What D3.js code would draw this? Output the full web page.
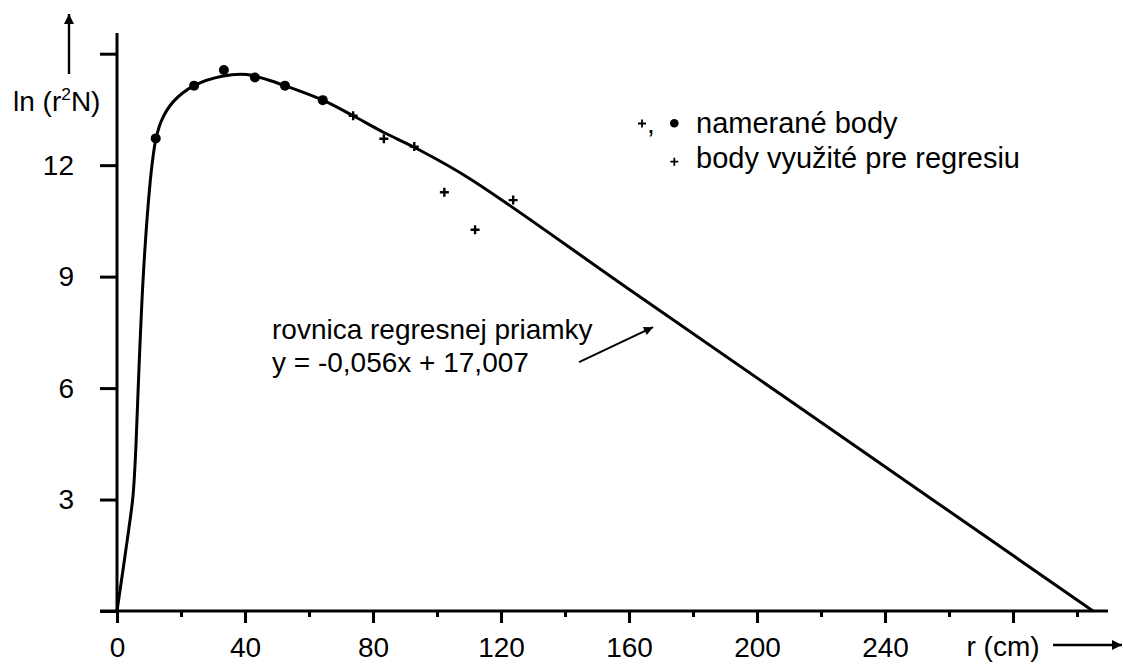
<!DOCTYPE html>
<html>
<head>
<meta charset="utf-8">
<script src="https://cdn.jsdelivr.net/npm/d3@7"></script>
<style>
  body { margin: 0; background: #fff; }
  svg text { font-family: "Liberation Sans", Arial, sans-serif; fill: #000; }
</style>
</head>
<body>
<div id="graf"></div>
<script>
// hodnoty odcitane z grafu
const xMajor  = [0, 40, 80, 120, 160, 200, 240, 280]
const xLabels = ['0', '40', '80', '120', '160', '200', '240', '']
const xMinor  = [20, 60, 100, 140, 180, 220, 260, 300]
const yTicks  = [0, 3, 6, 9, 12, 15]
const yLabels = ['', '3', '6', '9', '12', '']

// namerane body (krúžky)
const dotR = [12.1, 24.1, 33.4, 43.1, 52.5, 64.3]
const dotV = [12.72, 14.14, 14.56, 14.36, 14.14, 13.75]
// body vyuzite pre regresiu (krížiky)
const crossR = [73.8, 83.4, 92.9, 102.3, 111.9, 123.8]
const crossV = [13.33, 12.71, 12.50, 11.27, 10.26, 11.06]

// vyhladena krivka
const curveR = [0, 3.6, 5.0, 5.9, 6.9, 8.2, 9.8, 11.0, 12.2, 14.0, 17.6, 24.1, 33.2, 40.5, 47, 52.5, 64.3, 73.8, 83.4, 92.9, 110, 160, 220, 305]
const curveV = [0, 2.15, 3.1, 4.4, 6.6, 9.0, 11.0, 12.05, 12.72, 13.22, 13.71, 14.14, 14.40, 14.44, 14.3, 14.14, 13.75, 13.33, 12.88, 12.48, 11.65, 8.66, 5.08, 0]

const W = 1123, H = 664
const fs = 28

svg = d3.select('#graf').append('svg')
        .attr('width', W)
        .attr('height', H)

svg.append('rect').attr('width', W).attr('height', H).attr('fill', '#fff')

x = d3.scaleLinear().domain([0, 280]).range([117, 1013])
y = d3.scaleLinear().domain([0, 15]).range([611, 53.7])

// osi
svg.append('line')
   .attr('x1', 100).attr('x2', 1108)
   .attr('y1', y(0)).attr('y2', y(0))
   .attr('stroke', '#000').attr('stroke-width', 3)
svg.append('line')
   .attr('x1', x(0)).attr('x2', x(0))
   .attr('y1', 33).attr('y2', y(0))
   .attr('stroke', '#000').attr('stroke-width', 3)

ejeX = d3.axisBottom(x)
         .tickValues(xMajor)
         .tickSize(12)
         .tickPadding(14)
         .tickFormat((d, i) => xLabels[i])
ejeXm = d3.axisBottom(x)
          .tickValues(xMinor)
          .tickSize(6)
          .tickFormat('')
ejeY = d3.axisLeft(y)
         .tickValues(yTicks)
         .tickSize(17)
         .tickPadding(26)
         .tickFormat((d, i) => yLabels[i])

function styleAxis(sel) {
    sel.select('.domain').remove()
    sel.selectAll('line').attr('stroke', '#000').attr('stroke-width', 3)
    sel.selectAll('text')
       .attr('font-size', fs + 'px')
       .attr('font-family', '"Liberation Sans", Arial, sans-serif')
       .attr('fill', '#000')
}

svg.append('g').attr('transform', `translate(0, ${y(0)})`).call(ejeX).call(styleAxis)
svg.append('g').attr('transform', `translate(0, ${y(0)})`).call(ejeXm).call(styleAxis)
svg.append('g').attr('transform', `translate(${x(0)}, 0)`).call(ejeY).call(styleAxis)

// sipky osi
defs = svg.append('defs')
defs.append('marker')
   .attr('id', 'head')
   .attr('viewBox', '0 0 10 10')
   .attr('refX', 10).attr('refY', 5)
   .attr('markerWidth', 15).attr('markerHeight', 10)
   .attr('markerUnits', 'userSpaceOnUse')
   .attr('orient', 'auto')
   .append('path').attr('d', 'M0,0 L10,5 L0,10 Z').attr('fill', '#000')

svg.append('line')
   .attr('x1', 69).attr('y1', 74).attr('x2', 69).attr('y2', 14)
   .attr('stroke', '#000').attr('stroke-width', 2.4)
   .attr('marker-end', 'url(#head)')
svg.append('line')
   .attr('x1', 1053).attr('y1', 645).attr('x2', 1122).attr('y2', 645)
   .attr('stroke', '#000').attr('stroke-width', 2.4)
   .attr('marker-end', 'url(#head)')

// popisy osi
yl = svg.append('text')
        .attr('x', 13).attr('y', 111)
        .attr('font-size', fs + 'px')
yl.append('tspan').text('ln (r')
yl.append('tspan').attr('font-size', (fs * 0.62) + 'px').attr('dy', -11).text('2')
yl.append('tspan').attr('dy', 11).text('N)')

svg.append('text')
   .attr('x', x(280) - 10).attr('y', 656)
   .attr('text-anchor', 'middle')
   .attr('font-size', fs + 'px')
   .text('r (cm)')

// krivka
curva = d3.line()
          .x(d => x(d[0]))
          .y(d => y(d[1]))
          .curve(d3.curveCatmullRom.alpha(0.5))
svg.append('path')
   .datum(curveR.map((r, i) => [r, curveV[i]]))
   .attr('d', curva)
   .attr('fill', 'none')
   .attr('stroke', '#000')
   .attr('stroke-width', 3)
   .attr('stroke-linejoin', 'round')

// body
svg.selectAll('circle.dot')
   .data(dotR.map((r, i) => [r, dotV[i]]))
   .enter().append('circle')
   .attr('class', 'dot')
   .attr('cx', d => x(d[0]))
   .attr('cy', d => y(d[1]))
   .attr('r', 5)
   .attr('fill', '#000')

svg.selectAll('path.cross')
   .data(crossR.map((r, i) => [r, crossV[i]]))
   .enter().append('path')
   .attr('class', 'cross')
   .attr('transform', d => `translate(${x(d[0])}, ${y(d[1])})`)
   .attr('d', 'M-4.5,0H4.5M0,-4.5V4.5')
   .attr('stroke', '#000')
   .attr('stroke-width', 2.4)

// legenda
svg.append('path').attr('d', 'M638,123.5H646M642,119.5V127.5')
   .attr('stroke', '#000').attr('stroke-width', 1.8)
svg.append('text').attr('x', 647).attr('y', 133).attr('font-size', fs + 'px').text(',')
svg.append('circle').attr('cx', 674.3).attr('cy', 123.3).attr('r', 4.3).attr('fill', '#000')
svg.append('text').attr('x', 696).attr('y', 133).attr('font-size', '29px').text('namerané body')
svg.append('path').attr('d', 'M670.3,161.7H678.3M674.3,157.7V165.7')
   .attr('stroke', '#000').attr('stroke-width', 1.8)
svg.append('text').attr('x', 696).attr('y', 168).attr('font-size', '29px').text('body využité pre regresiu')

// anotacia regresnej priamky
svg.append('text').attr('x', 272).attr('y', 339).attr('font-size', fs + 'px').text('rovnica regresnej priamky')
svg.append('text').attr('x', 272).attr('y', 372).attr('font-size', fs + 'px').text('y = -0,056x + 17,007')

defs.append('marker')
   .attr('id', 'head2')
   .attr('viewBox', '0 0 10 10')
   .attr('refX', 10).attr('refY', 5)
   .attr('markerWidth', 14).attr('markerHeight', 9)
   .attr('markerUnits', 'userSpaceOnUse')
   .attr('orient', 'auto')
   .append('path').attr('d', 'M0,0 L10,5 L0,10 Z').attr('fill', '#000')
svg.append('line')
   .attr('x1', x(144.4)).attr('y1', y(6.70))
   .attr('x2', x(167.5)).attr('y2', y(7.64))
   .attr('stroke', '#000').attr('stroke-width', 2)
   .attr('marker-end', 'url(#head2)')
</script>
</body>
</html>
